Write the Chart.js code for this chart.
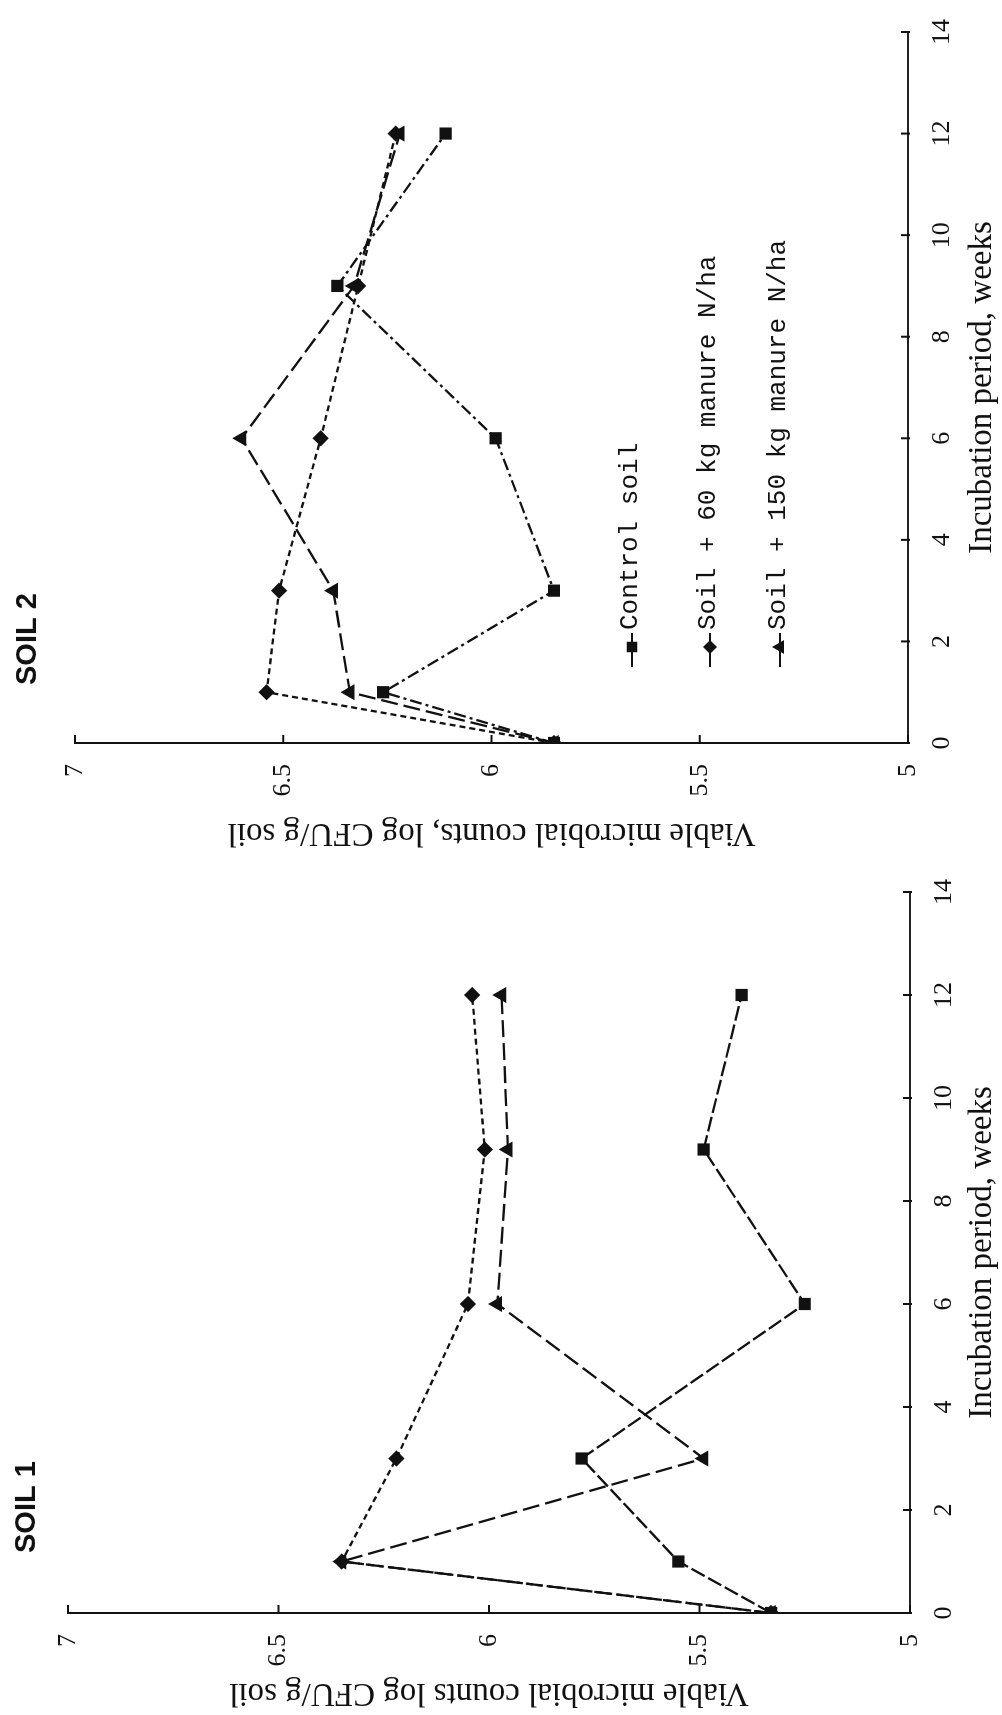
<!DOCTYPE html>
<html>
<head>
<meta charset="utf-8">
<title>Viable microbial counts</title>
<script src="https://cdn.jsdelivr.net/npm/chart.js@4.4.1/dist/chart.umd.min.js"></script>
<style>
  html, body { margin: 0; padding: 0; background: #fff; overflow: hidden; }
  /* the two panels are laid out side by side, then the sheet is turned a quarter turn */
  #sheet {
    position: absolute; left: 0; top: 0;
    width: 1715px; height: 1002px;
    transform-origin: 0 0;
    transform: translateY(1715px) rotate(-90deg);
  }
  #sheet canvas { position: absolute; top: 0; }
  #soil1 { left: 0; }
  #soil2 { left: 860px; }
</style>
</head>
<body>
<div id="sheet">
  <canvas id="soil1" width="860" height="1002"></canvas>
  <canvas id="soil2" width="855" height="1002"></canvas>
</div>
<script>
// sampling times (weeks of incubation)
const weeks = [0, 1, 3, 6, 9, 12];

const seriesNames = ['Control soil', 'Soil + 60 kg manure N/ha', 'Soil + 150 kg manure N/ha'];

// log CFU/g soil
const soil1Control = [5.33, 5.55, 5.78, 5.25, 5.49, 5.40];
const soil1Manure60 = [5.33, 6.35, 6.22, 6.05, 6.01, 6.04];
const soil1Manure150 = [5.33, 6.35, 5.49, 5.98, 5.955, 5.97];

const soil2Control = [5.85, 6.26, 5.85, 5.99, 6.37, 6.11];
const soil2Manure60 = [5.85, 6.54, 6.51, 6.41, 6.32, 6.23];
const soil2Manure150 = [5.85, 6.34, 6.38, 6.60, 6.33, 6.22];

const weekTicks = [0, 2, 4, 6, 8, 10, 12, 14];
const countTicks = [5, 5.5, 6, 6.5, 7];

const ink = '#111';
const serif = '"Liberation Serif", "Times New Roman", serif';

const seriesLook = [
  { pointStyle: 'rect', pointRadius: 7 },
  { pointStyle: 'rectRot', pointRadius: 6.5 },
  { pointStyle: 'triangle', pointRadius: 7 }
];

function toPoints(values) {
  return weeks.map((w, i) => ({ x: w, y: values[i] }));
}

// short tick marks pointing into the plot
const inwardTicks = {
  id: 'inwardTicks',
  afterDraw(chart) {
    const { ctx, chartArea, scales } = chart;
    ctx.save();
    ctx.strokeStyle = ink;
    ctx.lineWidth = 2;
    ctx.beginPath();
    weekTicks.forEach(v => {
      const px = scales.x.getPixelForValue(v);
      ctx.moveTo(px, chartArea.bottom + 2);
      ctx.lineTo(px, chartArea.bottom - 7);
    });
    countTicks.forEach(v => {
      const py = scales.y.getPixelForValue(v);
      ctx.moveTo(chartArea.left - 1, py);
      ctx.lineTo(chartArea.left + 8, py);
    });
    ctx.stroke();
    ctx.restore();
  }
};

const panelLabel = {
  id: 'panelLabel',
  afterDraw(chart, args, opts) {
    const ctx = chart.ctx;
    ctx.save();
    ctx.fillStyle = ink;
    ctx.font = 'bold 29px "Liberation Sans", Arial, sans-serif';
    ctx.textAlign = 'left';
    ctx.textBaseline = 'middle';
    ctx.fillText(opts.text, opts.x, opts.y);
    ctx.restore();
  }
};

// key drawn inside the plot: short line, marker, then the series name
const seriesKey = {
  id: 'seriesKey',
  afterDraw(chart, args, opts) {
    if (!opts.rows) return;
    const ctx = chart.ctx;
    chart.data.datasets.forEach((ds, i) => {
      const y = opts.rows[i];
      ctx.save();
      ctx.strokeStyle = ink;
      ctx.fillStyle = ink;
      ctx.lineWidth = 2;
      ctx.beginPath();
      ctx.moveTo(opts.x0, y);
      ctx.lineTo(opts.x1, y);
      ctx.stroke();
      Chart.helpers.drawPoint(ctx, {
        pointStyle: ds.pointStyle, radius: ds.pointRadius - 1, borderWidth: 1, rotation: 0
      }, opts.mark, y);
      ctx.font = '26px "Liberation Mono", "Courier New", monospace';
      ctx.textAlign = 'left';
      ctx.textBaseline = 'middle';
      ctx.fillText(ds.label, opts.x1 + 3, y - 2);
      ctx.restore();
    });
  }
};

function makePanel(id, series, cfg) {
  return new Chart(document.getElementById(id), {
    type: 'line',
    data: {
      datasets: series.map((values, i) => ({
        label: seriesNames[i],
        data: toPoints(values),
        borderColor: ink,
        backgroundColor: ink,
        pointBackgroundColor: ink,
        pointBorderColor: ink,
        borderWidth: 2.3,
        borderDash: cfg.dashes[i],
        tension: 0,
        ...seriesLook[i]
      }))
    },
    options: {
      responsive: false,
      animation: false,
      devicePixelRatio: 1,
      layout: { padding: { top: cfg.top, right: cfg.right, bottom: 0, left: 0 } },
      plugins: {
        legend: { display: false },
        tooltip: { enabled: false },
        panelLabel: cfg.label,
        seriesKey: cfg.key || {}
      },
      scales: {
        x: {
          type: 'linear',
          min: 0, max: 14,
          afterBuildTicks: s => { s.ticks = weekTicks.map(v => ({ value: v })); },
          afterFit: s => { s.height = cfg.xHeight; },
          grid: { drawOnChartArea: false, drawTicks: false },
          border: { color: '#222', width: 2, dash: [5, 3] },
          ticks: {
            padding: 19, color: ink,
            font: { family: serif, size: 26 }
          },
          title: {
            display: true, text: 'Incubation period, weeks', color: ink,
            padding: { top: 0, bottom: 0 },
            font: { family: serif, size: 33 }
          }
        },
        y: {
          type: 'linear',
          min: 5, max: 7,
          afterBuildTicks: s => { s.ticks = countTicks.map(v => ({ value: v })); },
          afterFit: s => { s.width = cfg.yWidth; },
          grid: { drawOnChartArea: false, drawTicks: false },
          border: { color: ink, width: 2 },
          ticks: {
            padding: 21, color: ink,
            callback: v => String(v),
            font: { family: serif, size: 26 }
          },
          title: {
            display: true, text: cfg.yTitle, color: ink,
            padding: { top: 3, bottom: 0 },
            font: { family: serif, size: 33 }
          }
        }
      }
    },
    plugins: [inwardTicks, panelLabel, seriesKey]
  });
}

makePanel('soil1', [soil1Control, soil1Manure60, soil1Manure150], {
  top: 68, right: 37, xHeight: 92, yWidth: 102,
  dashes: [[15, 4], [6, 4], [17, 6]],
  yTitle: 'Viable microbial counts log CFU/g soil',
  label: { text: 'SOIL 1', x: 162, y: 27 }
});

makePanel('soil2', [soil2Control, soil2Manure60, soil2Manure150], {
  top: 75, right: 23, xHeight: 94, yWidth: 112,
  dashes: [[12, 4, 3, 4], [6, 4], [17, 6]],
  yTitle: 'Viable microbial counts, log CFU/g soil',
  label: { text: 'SOIL 2', x: 170, y: 28 },
  key: { rows: [632, 710, 780], x0: 188, x1: 222, mark: 208 }
});
</script>
</body>
</html>
